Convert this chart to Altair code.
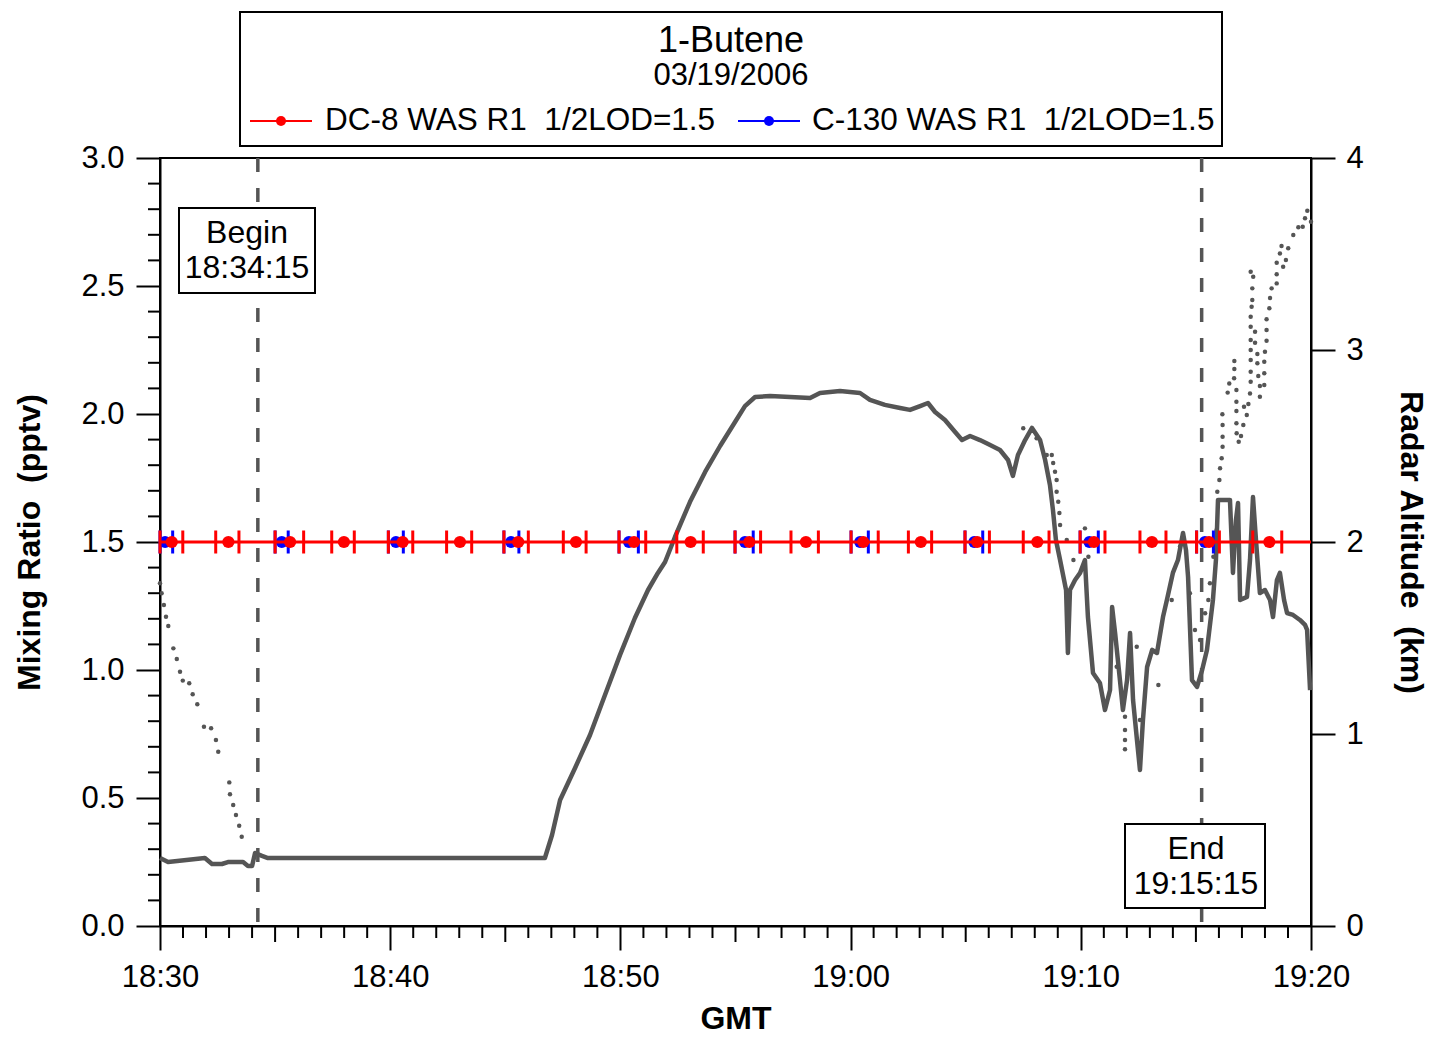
import altair as alt
import pandas as pd

FONT = "Liberation Sans"
GRAY = "#555555"

# ---------------- data (time = minutes after 18:30 GMT) ----------------
X_DOMAIN = [0, 50]
X_MAJOR = [0, 10, 20, 30, 40, 50]
MR_DOMAIN = [0, 3]
MR_MAJOR = [0.0, 0.5, 1.0, 1.5, 2.0, 2.5, 3.0]
ALT_DOMAIN = [0, 4]
ALT_MAJOR = [0, 1, 2, 3, 4]
HALF_LOD = 1.5
BEGIN_END = [4.25, 45.25]          # 18:34:15 and 19:15:15

# DC-8 WAS samples (mid, start, stop)
red_t = [0.51, 2.97, 5.65, 7.99, 10.54, 13.03, 15.56, 18.07, 20.59, 23.05,
         25.60, 28.06, 30.55, 33.05, 35.50, 38.11, 40.57, 43.09, 45.57, 48.19]
red_start = [0.0, 2.42, 5.0, 7.46, 9.92, 12.45, 14.94, 17.52, 19.94, 22.45,
             24.98, 27.41, 30.02, 32.51, 34.97, 37.50, 39.97, 42.57, 45.03, 47.47]
red_stop = [0.99, 3.43, 6.24, 8.44, 10.98, 13.54, 16.0, 18.51, 21.10, 23.60,
            26.09, 28.60, 31.20, 33.52, 36.03, 38.62, 41.05, 43.70, 46.02, 48.73]
red_val = [1.5] * len(red_t)

# C-130 WAS samples (mid, start, stop)
blue_t = [0.22, 5.29, 10.25, 15.25, 20.37, 25.41, 30.41, 35.37, 40.37, 45.39]
blue_start = [0.0, 5.0, 9.92, 14.94, 19.94, 24.98, 30.02, 34.97, 39.97, 45.03]
blue_stop = [0.55, 5.57, 10.57, 15.59, 20.78, 25.77, 30.77, 35.74, 40.76, 45.76]
blue_val = [1.5] * len(blue_t)

# radar altitude, solid track (km)
alt_t = [0.0, 0.35, 1.95, 2.26, 2.69, 2.95, 3.61, 3.82, 4.00, 4.13, 4.43, 4.69,
         10.43, 16.72, 17.03, 17.38, 18.03, 18.68, 19.33, 19.98, 20.63, 21.20,
         21.63, 21.94, 22.37, 23.02, 23.68, 24.33, 24.98, 25.41, 25.85, 26.50,
         27.37, 28.24, 28.67, 29.54, 30.41, 30.84, 31.49, 32.15, 32.58, 33.02,
         33.36, 33.67, 34.10, 34.54, 34.84, 35.19, 35.62, 36.06, 36.49, 36.84,
         37.05, 37.27, 37.58, 37.88, 38.23, 38.45, 38.66, 38.79, 38.92, 39.10,
         39.36, 39.44, 39.53, 39.75, 39.97, 40.18, 40.31, 40.53, 40.83, 41.05,
         41.27, 41.36, 41.49, 41.70, 41.83, 42.01, 42.14, 42.27, 42.44, 42.57,
         42.70, 42.88, 43.10, 43.31, 43.57, 43.74, 44.00, 44.22, 44.44, 44.57,
         44.66, 44.83, 45.05, 45.27, 45.48, 45.74, 45.87, 45.96, 46.26, 46.48,
         46.61, 46.74, 46.83, 46.92, 47.22, 47.35, 47.48, 47.61, 47.78, 48.00,
         48.22, 48.35, 48.52, 48.65, 48.83, 48.96, 49.22, 49.52, 49.74, 49.83,
         49.96]
alt_km = [0.354, 0.333, 0.354, 0.323, 0.323, 0.333, 0.333, 0.313, 0.313, 0.380, 0.365, 0.354,
          0.354, 0.354, 0.474, 0.656, 0.823, 0.995, 1.203, 1.411, 1.604, 1.750,
          1.839, 1.896, 2.026, 2.208, 2.365, 2.500, 2.625, 2.708, 2.755, 2.760,
          2.755, 2.750, 2.776, 2.786, 2.776, 2.740, 2.714, 2.698, 2.688, 2.708,
          2.724, 2.677, 2.635, 2.573, 2.531, 2.552, 2.531, 2.505, 2.479, 2.427,
          2.344, 2.453, 2.531, 2.594, 2.531, 2.427, 2.297, 2.167, 2.010, 1.906,
          1.750, 1.422, 1.750, 1.802, 1.839, 1.906, 1.609, 1.318, 1.266, 1.125,
          1.229, 1.661, 1.526, 1.281, 1.125, 1.281, 1.526, 1.177, 0.969, 0.813,
          1.073, 1.349, 1.438, 1.422, 1.609, 1.698, 1.839, 1.906, 2.047, 1.958,
          1.818, 1.281, 1.245, 1.333, 1.438, 1.698, 1.906, 2.219, 2.219, 2.219,
          1.839, 2.115, 2.203, 1.698, 1.714, 1.906, 2.234, 2.010, 1.734, 1.750,
          1.698, 1.609, 1.802, 1.839, 1.698, 1.630, 1.620, 1.594, 1.568, 1.542,
          1.229]

# radar altitude, dotted track (km)
dot_t = [0.0, 0.07, 0.17, 0.26, 0.36, 0.58, 0.73, 0.87, 0.99, 1.27, 1.42, 1.62,
         1.91, 2.22, 2.43, 2.53, 3.01, 3.04, 3.18, 3.30, 3.44, 3.55,
         37.50, 38.08, 38.52, 38.74, 38.80, 38.88, 38.95, 38.95, 39.02, 39.07,
         39.10, 39.39, 39.68, 40.18, 40.33, 41.56, 41.92, 41.92, 41.92, 41.92,
         42.43, 42.57, 43.37, 43.95, 44.31, 44.74, 44.96, 45.18, 45.40, 45.54,
         45.61, 45.76, 45.90, 45.93, 46.02, 46.05, 46.12, 46.16, 46.16, 46.16,
         46.15, 46.38, 46.45, 46.66, 46.67, 46.67, 46.76, 46.76, 46.76, 46.76,
         46.77, 46.86, 46.96, 47.06, 47.09, 47.21, 47.28, 47.35, 47.38, 47.38,
         47.38, 47.38, 47.38, 47.38, 47.38, 47.42, 47.45, 47.45, 47.49, 47.38,
         47.57, 47.57, 47.67, 47.67, 47.71, 47.78, 47.78, 47.97, 47.97, 47.97,
         48.00, 48.07, 48.07, 48.07, 48.19, 48.22, 48.29, 48.51, 48.51, 48.51,
         48.65, 48.72, 48.79, 48.91, 49.01, 49.23, 49.45, 49.64, 49.74, 49.84,
         50.0]
dot_km = [1.785, 1.733, 1.672, 1.611, 1.563, 1.446, 1.391, 1.324, 1.278, 1.264, 1.207, 1.155,
          1.038, 1.030, 0.969, 0.908, 0.748, 0.686, 0.630, 0.578, 0.522, 0.465,
          2.592, 2.540, 2.453, 2.453, 2.411, 2.366, 2.323, 2.262, 2.210, 2.151,
          2.089, 2.010, 1.906, 2.071, 1.923, 1.350, 1.090, 1.021, 0.969, 0.920,
          1.455, 1.073, 1.255, 1.698, 1.976, 1.733, 1.542, 1.490, 1.629, 1.698,
          1.785, 1.923, 2.063, 2.262, 2.323, 2.384, 2.436, 2.496, 2.548, 2.609,
          2.665, 2.778, 2.826, 2.853, 2.901, 2.943, 2.792, 2.731, 2.682, 2.618,
          2.566, 2.522, 2.552, 2.609, 2.705, 2.661, 2.719, 2.774, 2.835, 2.887,
          2.948, 3.000, 3.052, 3.121, 3.173, 3.225, 3.260, 3.321, 3.382, 3.408,
          3.095, 3.038, 2.979, 2.931, 2.865, 2.813, 2.757, 2.818, 2.879, 2.939,
          2.991, 3.048, 3.104, 3.160, 3.217, 3.271, 3.321, 3.347, 3.394, 3.455,
          3.503, 3.542, 3.434, 3.469, 3.530, 3.599, 3.639, 3.642, 3.686, 3.725,
          3.668]

TITLE = "1-Butene"
SUBTITLE = "03/19/2006"
RED_LABEL = "DC-8 WAS R1\u00a0 1/2LOD=1.5"
BLUE_LABEL = "C-130 WAS R1\u00a0 1/2LOD=1.5"

# ---------------- tables ----------------
df_alt = pd.DataFrame({"t": alt_t, "km": alt_km})
df_dot = pd.DataFrame({"t": dot_t, "km": dot_km})
df_marks = pd.DataFrame({"t": BEGIN_END})
df_lod = pd.DataFrame({"t": [X_DOMAIN[0]], "t1": [X_DOMAIN[1]], "v": [HALF_LOD]})
df_red = pd.DataFrame({"t": red_t, "v": red_val})
df_red_err = pd.DataFrame({"t": red_start + red_stop, "v": red_val + red_val})
df_blue = pd.DataFrame({"t": blue_t, "v": blue_val})
df_blue_err = pd.DataFrame({"t": blue_start + blue_stop, "v": blue_val + blue_val})
x_minor = pd.DataFrame({"t": [m for m in range(1, 50) if m % 5]})
x_mid = pd.DataFrame({"t": [m for m in range(5, 50, 10)]})
y_minor = pd.DataFrame({"v": [round(i * 0.1, 1) for i in range(1, 30) if i % 5]})
one = pd.DataFrame({"k": [0]})

W, H = 1151, 768

xscale = alt.Scale(domain=X_DOMAIN, nice=False, zero=False)
mrscale = alt.Scale(domain=MR_DOMAIN, nice=False)
altscale = alt.Scale(domain=ALT_DOMAIN, nice=False)

x_axis = alt.Axis(
    values=X_MAJOR, tickSize=24, labelPadding=12, labelFlush=False, title="GMT", titlePadding=11,
    labelExpr="floor((1110 + datum.value) / 60) + ':' + ((1110 + datum.value) % 60 < 10 ? '0' : '') + ((1110 + datum.value) % 60)",
)
left_axis = alt.Axis(orient="left", values=MR_MAJOR, format=".1f", tickSize=24, labelFlush=False,
                     labelPadding=12, title="Mixing Ratio\u00a0\u00a0(pptv)", titlePadding=34)
right_axis = alt.Axis(orient="right", values=ALT_MAJOR, format="d", tickSize=24, labelFlush=False,
                      labelPadding=11, title="Radar Altitude\u00a0\u00a0(km)", titlePadding=30)


def X(field="t"):
    return alt.X(f"{field}:Q", scale=xscale, axis=x_axis)


def YMR():
    return alt.Y("v:Q", scale=mrscale, axis=left_axis)


def YALT():
    return alt.Y("km:Q", scale=altscale, axis=right_axis)


# ---------------- group A: altitude ----------------
dashed = alt.Chart(df_marks).mark_rule(color=GRAY, strokeWidth=3.5, strokeDash=[14, 16]).encode(x=X())
alt_line = alt.Chart(df_alt).mark_line(color=GRAY, strokeWidth=4.5, strokeJoin="round").encode(x=X(), y=YALT())
alt_dots = alt.Chart(df_dot).mark_circle(color=GRAY, size=20, opacity=1).encode(x=X(), y=YALT())
group_a = alt.layer(dashed, alt_line, alt_dots)

# ---------------- group B: mixing ratio ----------------
lod_line = alt.Chart(df_lod).mark_rule(color="#ff0000", strokeWidth=3).encode(x=X(), x2="t1:Q", y=YMR())
ymin_ticks = alt.Chart(y_minor).mark_rule(color="black", strokeWidth=2).encode(
    y=YMR(), x=alt.value(-12), x2=alt.value(0)
)
blue_err = alt.Chart(df_blue_err).mark_tick(color="#0000ff", orient="vertical", size=23, thickness=3,
                                            opacity=1).encode(x=X(), y=YMR())
blue_pts = alt.Chart(df_blue).mark_circle(color="#0000ff", size=140, opacity=1).encode(x=X(), y=YMR())
red_err = alt.Chart(df_red_err).mark_tick(color="#ff0000", orient="vertical", size=23, thickness=3,
                                          opacity=1).encode(x=X(), y=YMR())
red_pts = alt.Chart(df_red).mark_circle(color="#ff0000", size=150, opacity=1).encode(x=X(), y=YMR())
group_b = alt.layer(ymin_ticks, blue_err, blue_pts, lod_line, red_err, red_pts)

# ---------------- group C: ticks, boxes, legend ----------------
xmin_ticks = alt.Chart(x_minor).mark_rule(color="black", strokeWidth=2).encode(
    x=X(), y=alt.value(H), y2=alt.value(H + 12)
)
xmid_ticks = alt.Chart(x_mid).mark_rule(color="black", strokeWidth=2).encode(
    x=X(), y=alt.value(H), y2=alt.value(H + 16)
)


def box(x0, x1, y0, y1):
    return alt.Chart(one).mark_rect(fill="white", stroke="black", strokeWidth=2).encode(
        x=alt.value(x0), x2=alt.value(x1), y=alt.value(y0), y2=alt.value(y1)
    )


def label(txt, x, y, size, align="center"):
    return alt.Chart(one).mark_text(text=txt, font=FONT, fontSize=size, color="black",
                                    align=align, baseline="middle").encode(
        x=alt.value(x), y=alt.value(y)
    )


def legend_symbol(color, x0, x1, y):
    line = alt.Chart(one).mark_rule(color=color, strokeWidth=2).encode(
        x=alt.value(x0), x2=alt.value(x1), y=alt.value(y)
    )
    dot = alt.Chart(one).mark_circle(color=color, size=100, opacity=1).encode(
        x=alt.value((x0 + x1) / 2), y=alt.value(y)
    )
    return line + dot


group_c = alt.layer(
    xmin_ticks, xmid_ticks,
    box(19, 155, 50, 135), label("Begin", 87, 75, 32), label("18:34:15", 87, 110, 32),
    box(965, 1105, 666, 750), label("End", 1036, 691, 32), label("19:15:15", 1036, 726, 32),
    box(80, 1062, -146, -12),
    label(TITLE, 571, -117, 36), label(SUBTITLE, 571, -82, 31),
    legend_symbol("#ff0000", 90, 152, -37), label(RED_LABEL, 165, -37, 31.5, "left"),
    legend_symbol("#0000ff", 578, 640, -37), label(BLUE_LABEL, 652, -37, 31.5, "left"),
)

chart = alt.layer(group_a, group_b, group_c).resolve_scale(y="independent").properties(
    width=W, height=H,
    padding={"left": 152, "top": 150, "right": 118, "bottom": 110},
    autosize=alt.AutoSizeParams(type="none"),
).configure_axis(
    labelFont=FONT, titleFont=FONT, labelFontSize=31, titleFontSize=32,
    titleFontWeight="bold", labelColor="black", titleColor="black",
    domainColor="black", tickColor="black", domainWidth=2, tickWidth=2, grid=False,
).configure_view(stroke="black", strokeWidth=2)

chart.save("out.html", embed_options={"renderer": "svg", "actions": False})
